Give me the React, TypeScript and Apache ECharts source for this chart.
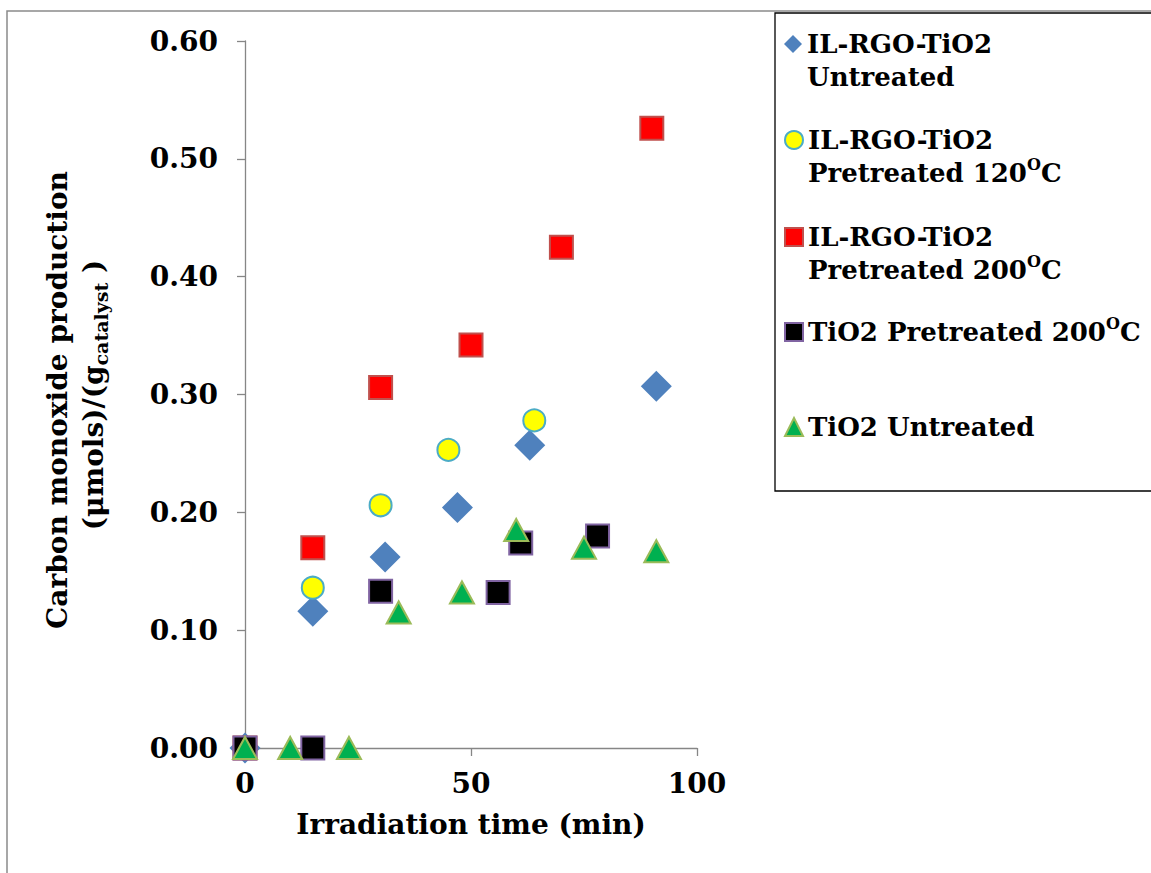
import React, { useEffect, useRef } from "react";
import * as echarts from "echarts";

const FONT = '"DejaVu Serif", Georgia, serif';

// ---- data ----
const seriesNames = [
  "IL-RGO-TiO2 Untreated",
  "IL-RGO-TiO2 Pretreated 120°C",
  "IL-RGO-TiO2 Pretreated 200°C",
  "TiO2 Pretreated 200°C",
  "TiO2 Untreated",
];
const legendLines = [
  ["{b|IL-RGO-TiO2}", "{b|Untreated}"],
  ["{b|IL-RGO-TiO2}", "{b|Pretreated 120}{sup|O}{b|C}"],
  ["{b|IL-RGO-TiO2}", "{b|Pretreated 200}{sup|O}{b|C}"],
  ["{b|TiO2 Pretreated 200}{sup|O}{b|C}"],
  ["{b|TiO2 Untreated}"],
];

const untreatedX = [0, 15, 31, 47, 63, 91];
const untreatedY = [0, 0.116, 0.162, 0.204, 0.257, 0.307];

const pre120X = [0, 15, 30, 45, 64];
const pre120Y = [0, 0.136, 0.206, 0.253, 0.278];

const pre200X = [0, 15, 30, 50, 70, 90];
const pre200Y = [0, 0.17, 0.306, 0.342, 0.425, 0.526];

const tio2Pre200X = [0, 15, 30, 56, 61, 78];
const tio2Pre200Y = [0, 0, 0.133, 0.132, 0.174, 0.18];

const tio2UntX = [0, 10, 23, 34, 48, 60, 75, 91];
const tio2UntY = [0, 0, 0, 0.115, 0.132, 0.185, 0.17, 0.167];

const xAxisTitle = "Irradiation time (min)";
const yAxisTitleLine1 = "Carbon monoxide production";
const yAxisTitleLine2 = "{m|(μmols)/(g}{s|catalyst}{m| )}";

const xMin = 0, xMax = 100, xStep = 50;
const yMin = 0, yMax = 0.6, yStep = 0.1;

const zip = (xs: number[], ys: number[]) => xs.map((x, i) => [x, ys[i]]);

export default function App() {
  const ref = useRef<HTMLDivElement>(null);
  useEffect(() => {
    if (!ref.current) return;
    const chart = echarts.init(ref.current, null, { renderer: "svg" });
    const axisColor = "#868686";
    const FS = 28;
    const LFS = 26;
    const labelStyle = { fontFamily: FONT, fontWeight: "bold" as const, fontSize: FS, color: "#000" };

    const LH = 33;
    const legendTops = [44 - 1.5 * LH, 140 - 1.5 * LH, 237 - 1.5 * LH, 332 - 0.5 * LH, 427 - 0.5 * LH];
    const legends = seriesNames.map((name, i) => ({
      data: [name],
      left: 784,
      top: legendTops[i],
      orient: "vertical",
      padding: 0,
      itemWidth: 18,
      itemHeight: 18,
      itemGap: 0,
      selectedMode: false,
      formatter: () => (legendLines[i].length > 1 ? "\n" : "") + legendLines[i].join("\n"),
      textStyle: {
        fontFamily: FONT,
        fontWeight: "bold",
        fontSize: LFS,
        lineHeight: LH,
        color: "#000",
        rich: {
          b: { fontFamily: FONT, fontWeight: "bold", fontSize: LFS, lineHeight: LH, color: "#000" },
          sup: { fontFamily: FONT, fontWeight: "bold", fontSize: 16, lineHeight: 22, verticalAlign: "top", color: "#000" },
        },
      },
    }));

    const mk = (
      name: string,
      data: number[][],
      symbol: string,
      size: any,
      color: string,
      border: string,
      bw: number
    ) => ({
      name,
      type: "scatter",
      data,
      symbol,
      symbolSize: size,
      itemStyle: { color, borderColor: border, borderWidth: bw, opacity: 1 },
      emphasis: { disabled: true },
    });

    chart.setOption({
      animation: false,
      grid: { left: 245, top: 41, width: 452, height: 707 },
      xAxis: {
        type: "value",
        min: xMin,
        max: xMax,
        interval: xStep,
        axisLine: { show: true, onZero: false, lineStyle: { color: axisColor, width: 1.3 } },
        axisTick: { show: true, length: 8, lineStyle: { color: axisColor, width: 1.3 } },
        splitLine: { show: false },
        axisLabel: { ...labelStyle, margin: 21 },
        name: xAxisTitle,
        nameLocation: "middle",
        nameGap: 62,
        nameTextStyle: { ...labelStyle },
      },
      yAxis: {
        type: "value",
        min: yMin,
        max: yMax,
        interval: yStep,
        axisLine: { show: true, onZero: false, lineStyle: { color: axisColor, width: 1.3 } },
        axisTick: { show: true, length: 8, lineStyle: { color: axisColor, width: 1.3 } },
        splitLine: { show: false },
        axisLabel: { ...labelStyle, margin: 27, formatter: (v: number) => v.toFixed(2) },
      },
      legend: legends,
      series: [
        mk(seriesNames[0], zip(untreatedX, untreatedY), "diamond", [31, 31], "#4F81BD", "#4F81BD", 0),
        mk(seriesNames[1], zip(pre120X, pre120Y), "circle", 22, "#FFFF00", "#4BACC6", 2),
        mk(seriesNames[2], zip(pre200X, pre200Y), "rect", 23, "#FF0000", "#C0504D", 2),
        mk(seriesNames[3], zip(tio2Pre200X, tio2Pre200Y), "rect", 23, "#000000", "#8064A2", 2),
        mk(seriesNames[4], zip(tio2UntX, tio2UntY), "triangle", [24, 22], "#00B050", "#9BBB59", 2),
      ],
      graphic: [
        {
          type: "rect",
          shape: { x: 7, y: 11, width: 1300, height: 1000 },
          style: { fill: "none", stroke: "#8a8a8a", lineWidth: 1.5 },
          silent: true,
          z: -10,
        },
        {
          type: "rect",
          shape: { x: 775, y: 13, width: 500, height: 478 },
          style: { fill: "none", stroke: "#000", lineWidth: 1.3 },
          silent: true,
          z: -10,
        },
        {
          type: "text",
          x: 57,
          y: 400,
          rotation: Math.PI / 2,
          style: {
            text: yAxisTitleLine1,
            fontFamily: FONT,
            fontWeight: "bold",
            fontSize: FS,
            fill: "#000",
            align: "center",
            verticalAlign: "middle",
            textAlign: "center",
            textVerticalAlign: "middle",
          },
        },
        {
          type: "text",
          x: 93,
          y: 395,
          rotation: Math.PI / 2,
          style: {
            text: yAxisTitleLine2,
            fill: "#000",
            align: "center",
            verticalAlign: "middle",
            textAlign: "center",
            textVerticalAlign: "middle",
            rich: {
              m: { fontFamily: FONT, fontWeight: "bold", fontSize: FS, lineHeight: 34, fill: "#000" },
              s: { fontFamily: FONT, fontWeight: "bold", fontSize: 19, lineHeight: 19, verticalAlign: "bottom", fill: "#000" },
            },
          },
        },
      ],
    });
    return () => chart.dispose();
  }, []);
  return (
    <div
      ref={ref}
      style={{ position: "absolute", left: 0, top: 0, width: 1151, height: 873, background: "#fff" }}
    />
  );
}
